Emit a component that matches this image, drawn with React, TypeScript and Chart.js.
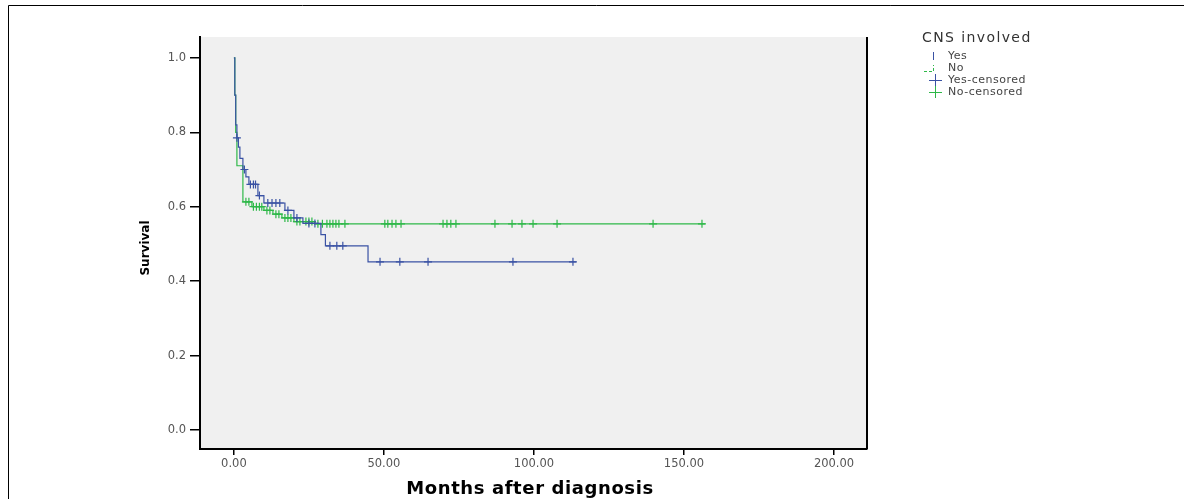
import { useEffect, useRef } from "react";
import { Chart, registerables } from "chart.js";

Chart.register(...registerables);

// Kaplan-Meier step curves (time in months, survival proportion after event)
const yesTimes = [0, 0.3, 0.6, 1, 1.5, 2, 3, 4, 5, 8, 10, 17, 20, 23, 29, 30.5, 44.7, 114];
const yesSurv = [1.0, 0.9, 0.82, 0.785, 0.76, 0.73, 0.70, 0.68, 0.66, 0.63, 0.61, 0.59, 0.57, 0.555, 0.525, 0.495, 0.452, 0.452];

const noTimes = [0, 0.3, 0.6, 1, 3, 6, 10, 13, 16, 20, 27, 157];
const noSurv = [1.0, 0.9, 0.8, 0.71, 0.613, 0.60, 0.59, 0.58, 0.57, 0.56, 0.554, 0.554];

// censoring times
const yesCensored = [1, 3.5, 5.5, 6.5, 7.2, 8.5, 11.3, 12.7, 14, 15.3, 18, 21, 25, 27, 32, 34.3, 36.3, 48.7, 55.3, 64.7, 93, 113];
const noCensored = [4, 5, 6.5, 7.5, 8.5, 9.3, 11, 12, 14, 15, 17, 18, 19, 21, 22, 24, 25, 26, 28, 29.5, 31, 32, 33, 34, 35, 37, 50.3, 51.3, 52.7, 54, 55.7, 69.7, 71, 72.3, 74, 87, 92.7, 96, 99.7, 107.7, 139.7, 156];

const xTicks = [0, 50, 100, 150, 200];
const yTicks = [0, 0.2, 0.4, 0.6, 0.8, 1.0];

const legendTitle = "CNS involved";
const legendLabels = ["Yes", "No", "Yes-censored", "No-censored"];

const BLUE = "#3a52a4";
const GREEN = "#2eb848";

function survAt(times: number[], surv: number[], t: number) {
  let s = surv[0];
  for (let i = 0; i < times.length; i++) if (times[i] <= t) s = surv[i];
  return s;
}

const decor = {
  id: "decor",
  beforeDraw(chart: any) {
    const { ctx, chartArea: a } = chart;
    ctx.save();
    ctx.fillStyle = "#ffffff";
    ctx.fillRect(0, 0, chart.width, chart.height);
    ctx.fillStyle = "#f0f0f0";
    ctx.fillRect(a.left, a.top, a.right - a.left, a.bottom - a.top);
    ctx.strokeStyle = "#000";
    ctx.lineWidth = 1;
    ctx.beginPath();
    ctx.moveTo(8.5, chart.height + 5);
    ctx.lineTo(8.5, 5.5);
    ctx.lineTo(chart.width + 5, 5.5);
    ctx.stroke();
    ctx.restore();
  },
  afterDraw(chart: any) {
    const { ctx, chartArea: a } = chart;
    ctx.save();
    // right border of plot
    ctx.strokeStyle = "#000";
    ctx.lineWidth = 2;
    ctx.beginPath();
    ctx.moveTo(a.right, a.top);
    ctx.lineTo(a.right, a.bottom);
    ctx.stroke();
    // axis titles
    ctx.fillStyle = "#000";
    ctx.font = "bold 18px 'DejaVu Sans'";
    (ctx as any).letterSpacing = "0.6px";
    ctx.textAlign = "center";
    ctx.textBaseline = "middle";
    ctx.fillText("Months after diagnosis", 530, 489);
    (ctx as any).letterSpacing = "0px";
    ctx.save();
    ctx.translate(146, 248);
    ctx.rotate(-Math.PI / 2);
    ctx.font = "bold 12px 'DejaVu Sans'";
    ctx.fillText("Survival", 0, 0);
    ctx.restore();
    // legend
    ctx.textAlign = "left";
    ctx.font = "14px 'DejaVu Sans'";
    (ctx as any).letterSpacing = "1.4px";
    ctx.fillStyle = "#333";
    ctx.fillText(legendTitle, 922, 38);
    const rows = [56, 68, 80, 92];
    ctx.font = "11px 'DejaVu Sans'";
    (ctx as any).letterSpacing = "0.5px";
    ctx.fillStyle = "#444";
    legendLabels.forEach((l, i) => ctx.fillText(l, 948, rows[i]));
    (ctx as any).letterSpacing = "0px";
    ctx.lineWidth = 1;
    // Yes symbol
    ctx.strokeStyle = BLUE;
    ctx.beginPath();
    ctx.moveTo(933.5, rows[0] - 4);
    ctx.lineTo(933.5, rows[0] + 4);
    ctx.stroke();
    // No symbol
    ctx.strokeStyle = GREEN;
    ctx.setLineDash([3, 2]);
    ctx.beginPath();
    ctx.moveTo(924, rows[1] + 3.5);
    ctx.lineTo(933.5, rows[1] + 3.5);
    ctx.lineTo(933.5, rows[1] - 3);
    ctx.stroke();
    ctx.setLineDash([]);
    // censored symbols
    [[BLUE, rows[2]], [GREEN, rows[3]]].forEach(([c, y]: any) => {
      ctx.strokeStyle = c;
      ctx.beginPath();
      ctx.moveTo(929, y + 0.5);
      ctx.lineTo(942, y + 0.5);
      ctx.moveTo(935.5, y - 6);
      ctx.lineTo(935.5, y + 6);
      ctx.stroke();
    });
    ctx.restore();
  },
};

export default function App() {
  const ref = useRef<HTMLCanvasElement>(null);
  useEffect(() => {
    if (!ref.current) return;
    const lineData = (t: number[], s: number[]) => t.map((x, i) => ({ x, y: s[i] }));
    const censData = (c: number[], t: number[], s: number[]) => c.map((x) => ({ x, y: survAt(t, s, x) }));
    const tickFont = { family: "'DejaVu Sans'", size: 11.5 };
    const chart = new Chart(ref.current, {
      type: "scatter",
      data: {
        datasets: [
          { label: "No", data: lineData(noTimes, noSurv), showLine: true, stepped: true, borderColor: GREEN, borderWidth: 1.2, pointRadius: 0, order: 2 } as any,
          { label: "Yes", data: lineData(yesTimes, yesSurv), showLine: true, stepped: true, borderColor: BLUE, borderWidth: 1.2, pointRadius: 0, order: 1 } as any,
          { label: "No-censored", data: censData(noCensored, noTimes, noSurv), pointStyle: "cross", pointRadius: 4, borderColor: GREEN, borderWidth: 1.2, order: 2 } as any,
          { label: "Yes-censored", data: censData(yesCensored, yesTimes, yesSurv), pointStyle: "cross", pointRadius: 4, borderColor: BLUE, borderWidth: 1.2, order: 1 } as any,
        ],
      },
      options: {
        animation: false,
        responsive: false,
        layout: { padding: { top: 37, right: 317, left: 0, bottom: 0 } },
        plugins: { legend: { display: false }, tooltip: { enabled: false } },
        scales: {
          x: {
            type: "linear",
            min: -11.3,
            max: 211,
            afterBuildTicks: (s: any) => { s.ticks = xTicks.map((v) => ({ value: v })); },
            afterFit: (s: any) => { s.height = 50; },
            ticks: { callback: (v: any) => Number(v).toFixed(2), font: tickFont, color: "#555", padding: 2, maxRotation: 0 },
            grid: { drawOnChartArea: false, drawTicks: true, tickLength: 6, color: "#000", lineWidth: 1.5 },
            border: { display: true, color: "#000", width: 2 },
          },
          y: {
            type: "linear",
            min: -0.051,
            max: 1.056,
            afterBuildTicks: (s: any) => { s.ticks = yTicks.map((v) => ({ value: v })); },
            afterFit: (s: any) => { s.width = 200; },
            ticks: { callback: (v: any) => Number(v).toFixed(1), font: tickFont, color: "#555", padding: 4 },
            grid: { drawOnChartArea: false, drawTicks: true, tickLength: 10, color: "#000", lineWidth: 1.5 },
            border: { display: true, color: "#000", width: 2 },
          },
        },
      },
      plugins: [decor],
    });
    return () => chart.destroy();
  }, []);
  return (
    <div style={{ position: "fixed", left: 0, top: 0, width: 1184, height: 499 }}>
      <canvas ref={ref} width={1184} height={499} style={{ display: "block", width: 1184, height: 499 }} />
    </div>
  );
}
